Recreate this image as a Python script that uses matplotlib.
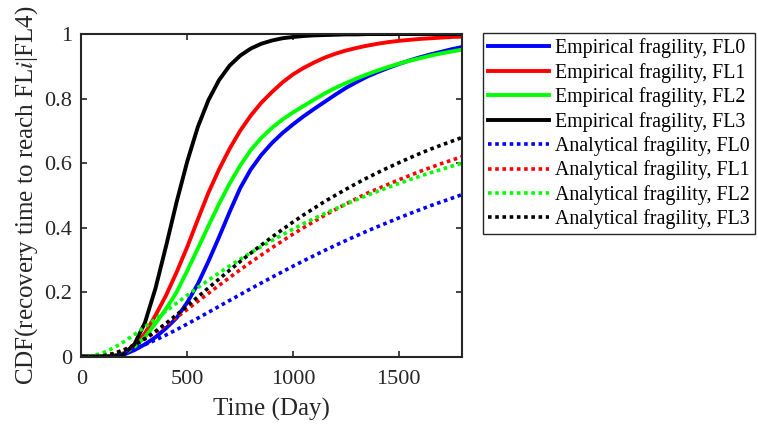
import matplotlib
matplotlib.use("Agg")
import matplotlib.pyplot as plt

plt.rcParams['font.family'] = ['Liberation Serif', 'DejaVu Serif']
plt.rcParams['mathtext.fontset'] = 'stix'

# recovery time grid (days)
days = list(range(0, 1801, 50))

# empirical fragility CDFs
emp_fl0 = [0, 0, 0, 0.001, 0.006, 0.02, 0.038, 0.06, 0.088, 0.12, 0.168, 0.225, 0.295,
           0.37, 0.448, 0.522, 0.58, 0.625, 0.662, 0.693, 0.72, 0.745, 0.768, 0.79, 0.812,
           0.833, 0.851, 0.868, 0.882, 0.895, 0.907, 0.918, 0.928, 0.937, 0.945, 0.953, 0.96]
emp_fl1 = [0, 0, 0, 0.002, 0.01, 0.032, 0.072, 0.128, 0.19, 0.262, 0.34, 0.425, 0.508,
           0.58, 0.644, 0.70, 0.747, 0.787, 0.82, 0.85, 0.875, 0.895, 0.912, 0.927, 0.939,
           0.949, 0.957, 0.964, 0.97, 0.975, 0.979, 0.982, 0.985, 0.987, 0.989, 0.991, 0.992]
emp_fl2 = [0, 0, 0, 0.002, 0.01, 0.03, 0.06, 0.103, 0.148, 0.20, 0.266, 0.335, 0.405,
           0.473, 0.536, 0.592, 0.64, 0.678, 0.709, 0.735, 0.757, 0.777, 0.797, 0.816, 0.833,
           0.848, 0.862, 0.875, 0.887, 0.898, 0.908, 0.917, 0.925, 0.933, 0.94, 0.946, 0.952]
emp_fl3 = [0, 0, 0, 0.001, 0.008, 0.038, 0.105, 0.212, 0.343, 0.48, 0.605, 0.712, 0.795,
           0.857, 0.902, 0.933, 0.955, 0.97, 0.98, 0.987, 0.991, 0.994, 0.996, 0.997, 0.998,
           0.999, 0.999, 1, 1, 1, 1, 1, 1, 1, 1, 1, 1]

# analytical fragility CDFs
ana_fl0 = [0, 0, 0.002, 0.0066, 0.0142, 0.0245, 0.0371, 0.0513, 0.0669, 0.0836, 0.1011,
           0.119, 0.1372, 0.1555, 0.1739, 0.1921, 0.2104, 0.2281, 0.2457, 0.263, 0.2803,
           0.297, 0.3131, 0.3292, 0.3446, 0.3598, 0.3745, 0.389, 0.4028, 0.4164, 0.4298,
           0.4427, 0.4554, 0.4677, 0.4793, 0.4908, 0.5024]
ana_fl1 = [0, 0.0002, 0.0027, 0.0095, 0.0208, 0.0361, 0.0547, 0.0756, 0.0982, 0.1218,
           0.1464, 0.1713, 0.196, 0.2206, 0.2451, 0.269, 0.2925, 0.3149, 0.3372, 0.3587,
           0.3798, 0.3997, 0.4192, 0.438, 0.4558, 0.4733, 0.49, 0.5064, 0.52, 0.534, 0.548,
           0.561, 0.574, 0.586, 0.598, 0.609, 0.62]
ana_fl2 = [0, 0.0018, 0.0108, 0.0262, 0.0458, 0.0681, 0.0921, 0.1166, 0.1412, 0.1658,
           0.1902, 0.2139, 0.2367, 0.2591, 0.2806, 0.3015, 0.322, 0.3409, 0.3598, 0.3775,
           0.3951, 0.4122, 0.4278, 0.4435, 0.4582, 0.4725, 0.4864, 0.4996, 0.5124, 0.5247,
           0.5367, 0.5482, 0.5592, 0.5702, 0.58, 0.5902, 0.5999]
ana_fl3 = [0, 0.0001, 0.0021, 0.0084, 0.0197, 0.0357, 0.0556, 0.0784, 0.1033, 0.1297,
           0.1572, 0.1849, 0.2127, 0.2404, 0.2676, 0.2946, 0.3206, 0.3457, 0.3703, 0.394,
           0.4172, 0.4392, 0.4602, 0.4809, 0.5, 0.5187, 0.5367, 0.554, 0.5703, 0.586, 0.601,
           0.6156, 0.6297, 0.6432, 0.6554, 0.6675, 0.6797]

colors = ['#0000ff', '#ff0000', '#00ff00', '#000000']
emp = [emp_fl0, emp_fl1, emp_fl2, emp_fl3]
ana = [ana_fl0, ana_fl1, ana_fl2, ana_fl3]

fig = plt.figure(figsize=(7.58, 4.26), dpi=100)
ax = fig.add_axes([0.1075, 0.163, 0.5023, 0.757])

for i in range(4):
    ax.plot(days, emp[i], color=colors[i], lw=2.8, label='Empirical fragility, FL%d' % i)
for i in range(4):
    ax.plot(days, ana[i], color=colors[i], lw=2.6, linestyle=(0, (1, 1)),
            label='Analytical fragility, FL%d' % i)

ax.set_xlim(0, 1800)
ax.set_ylim(0, 1)
ax.set_xticks([0, 500, 1000, 1500])
ax.set_yticks([0, 0.2, 0.4, 0.6, 0.8, 1])
ax.set_yticklabels(['0', '0.2', '0.4', '0.6', '0.8', '1'])
ax.tick_params(direction='in', top=True, right=True, labelsize=16, width=1.2,
               length=4, colors='#262626', labelcolor='#262626')
ax.tick_params(axis='x', pad=10)
ax.tick_params(axis='y', pad=7)
for s in ax.spines.values():
    s.set_linewidth(1.5)
    s.set_color('#262626')

ax.set_xlabel('Time (Day)', fontsize=18, color='#262626', labelpad=6)
ax.set_ylabel('CDF(recovery time to reach FL$i$|FL4)', fontsize=18, color='#262626',
              labelpad=3)

leg = fig.legend(loc='upper left', bbox_to_anchor=(0.637, 0.922), fontsize=14.3,
                 fancybox=False, edgecolor='#262626', framealpha=1, handlelength=3.1,
                 labelspacing=0.23, borderpad=0.25, handletextpad=0.3, borderaxespad=0)
leg.get_frame().set_linewidth(1.0)

fig.savefig('out.png', dpi=100)
